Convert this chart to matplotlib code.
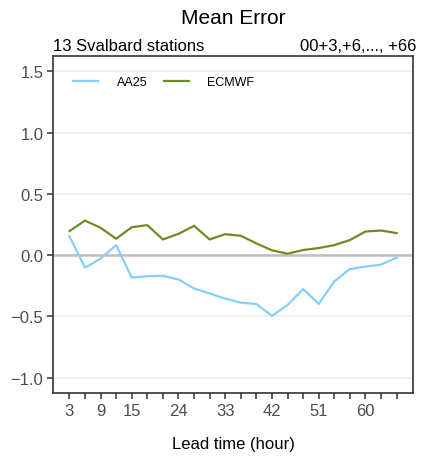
import matplotlib
matplotlib.use("Agg")
import matplotlib.pyplot as plt
import numpy as np

plt.rcParams['font.family'] = ['Liberation Sans', 'DejaVu Sans']

# lead times 3,6,...,66
lead = list(range(3, 67, 3))
aa25 = [0.155, -0.102, -0.029, 0.082, -0.183, -0.172, -0.169, -0.199, -0.272, -0.312, -0.355,
        -0.388, -0.398, -0.496, -0.407, -0.277, -0.398, -0.214, -0.114, -0.093, -0.077, -0.020]
ecmwf = [0.196, 0.282, 0.223, 0.134, 0.228, 0.245, 0.128, 0.174, 0.239, 0.128, 0.171,
         0.158, 0.096, 0.039, 0.012, 0.042, 0.058, 0.082, 0.123, 0.193, 0.201, 0.180]
xlabels = [3, 9, 15, 24, 33, 42, 51, 60]
yticks = [-1.0, -0.5, 0.0, 0.5, 1.0, 1.5]

fig = plt.figure(figsize=(4.21, 4.6), dpi=100)
ax = fig.add_axes([0.126, 0.1435, 0.855, 0.7325])

for yv in yticks:
    ax.axhline(yv, color='#EBEBEB', lw=1.1, zorder=0)
ax.axhline(0, color='#BEBEBE', lw=1.8, zorder=1)

ax.plot(lead, aa25, color='#87CEFA', lw=1.6, label='AA25', zorder=3)
ax.plot(lead, ecmwf, color='#6B8E23', lw=1.6, label='ECMWF', zorder=3)

ax.set_xlim(-0.15, 69.15)
ax.set_ylim(-1.125, 1.625)
ax.set_xticks(lead)
ax.set_xticklabels([str(v) if v in xlabels else '' for v in lead])
ax.set_yticks(yticks)
ax.set_yticklabels(['\u22121.0', '\u22120.5', '0.0', '0.5', '1.0', '1.5'])
ax.tick_params(axis='both', direction='out', length=4, width=1.1, color='#333333',
               labelcolor='#4D4D4D', labelsize=12, pad=3)
for s in ax.spines.values():
    s.set_color('#333333')
    s.set_linewidth(1.2)

ax.set_xlabel('Lead time (hour)', fontsize=12, labelpad=13)
ax.set_title('Mean Error', fontsize=15, pad=24)
ax.text(0.0, 1.008, '13 Svalbard stations', transform=ax.transAxes, ha='left', va='bottom', fontsize=12)
ax.text(1.01, 1.008, '00+3,+6,..., +66', transform=ax.transAxes, ha='right', va='bottom', fontsize=12)

ax.legend(loc='upper left', ncol=2, frameon=False, fontsize=9, handlelength=2.0,
          columnspacing=1.3, handletextpad=1.5, bbox_to_anchor=(0.0, 1.0), borderaxespad=1.2)

fig.savefig('out.png', dpi=100)
